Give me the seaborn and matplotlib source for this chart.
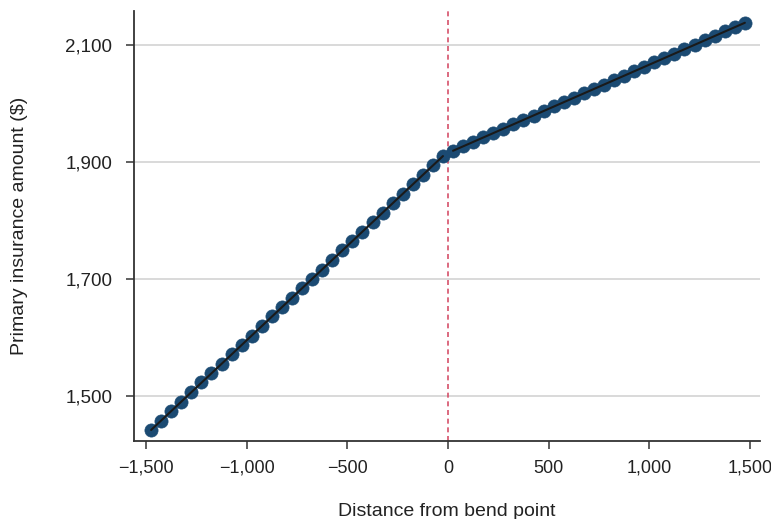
import matplotlib
matplotlib.use("Agg")
import matplotlib.pyplot as plt
import matplotlib.ticker as mticker
import seaborn as sns
import pandas as pd

# Data (bin centres, distance from bend point)
x_left = [-1475, -1425, -1375, -1325, -1275, -1225, -1175, -1125, -1075, -1025,
          -975, -925, -875, -825, -775, -725, -675, -625, -575, -525,
          -475, -425, -375, -325, -275, -225, -175, -125, -75, -25]
y_left = [1442, 1458, 1474, 1490, 1506, 1523, 1539, 1555, 1571, 1587,
          1603, 1619, 1636, 1652, 1668, 1684, 1700, 1716, 1732, 1749,
          1765, 1781, 1797, 1813, 1829, 1845, 1862, 1878, 1894, 1910]
x_right = [25, 75, 125, 175, 225, 275, 325, 375, 425, 475,
           525, 575, 625, 675, 725, 775, 825, 875, 925, 975,
           1025, 1075, 1125, 1175, 1225, 1275, 1325, 1375, 1425, 1475]
y_right = [1919, 1927, 1934, 1942, 1949, 1957, 1964, 1972, 1979, 1987,
           1995, 2002, 2010, 2017, 2025, 2032, 2040, 2047, 2055, 2062,
           2070, 2078, 2085, 2093, 2100, 2108, 2115, 2123, 2130, 2138]

x_ticks = [-1500, -1000, -500, 0, 500, 1000, 1500]
y_ticks = [1500, 1700, 1900, 2100]

sns.set_theme(style="white")
plt.rcParams['font.family'] = ['Liberation Sans', 'DejaVu Sans']

df_l = pd.DataFrame({"x": x_left, "y": y_left})
df_r = pd.DataFrame({"x": x_right, "y": y_right})

fig = plt.figure(figsize=(7.71, 5.19), dpi=100)
ax = fig.add_axes([0.1738, 0.1503, 0.8119, 0.8285])

for yt in y_ticks:
    ax.axhline(yt, color="#cfcfcf", lw=1.1, zorder=0)

ax.axvline(0, color="#d6506a", lw=1.2, ls=(0, (3, 2.2)), zorder=1)

for d in (df_l, df_r):
    sns.scatterplot(data=d, x="x", y="y", ax=ax, s=90, color="#1b4a72",
                    edgecolor="#1b4a72", linewidth=0.5, zorder=3)
    sns.regplot(data=d, x="x", y="y", ax=ax, scatter=False, ci=None,
                line_kws=dict(color="#1a1a1a", lw=1.5, zorder=4))

ax.set_xlim(-1560, 1550)
ax.set_ylim(1423, 2158)
ax.set_xticks(x_ticks)
ax.set_yticks(y_ticks)

def fmt(v, pos):
    s = f"{abs(int(v)):,}"
    return ("\u2212" + s) if v < 0 else s

ax.xaxis.set_major_formatter(mticker.FuncFormatter(fmt))
ax.yaxis.set_major_formatter(mticker.FuncFormatter(fmt))

for sp in ("top", "right"):
    ax.spines[sp].set_visible(False)
for sp in ("left", "bottom"):
    ax.spines[sp].set_color("#333333")
    ax.spines[sp].set_linewidth(1.3)

ax.tick_params(axis="both", which="major", direction="out", length=5.5,
               width=1.2, color="#444444", labelcolor="#222222",
               bottom=True, left=True)
ax.tick_params(axis="x", pad=8, labelsize=13)
ax.tick_params(axis="y", pad=10, labelsize=13.5)

ax.set_xlabel("Distance from bend point", fontsize=14, color="#222222", labelpad=19)
ax.set_ylabel("Primary insurance amount ($)", fontsize=14, color="#222222", labelpad=27)

fig.savefig("out.png", dpi=100)
